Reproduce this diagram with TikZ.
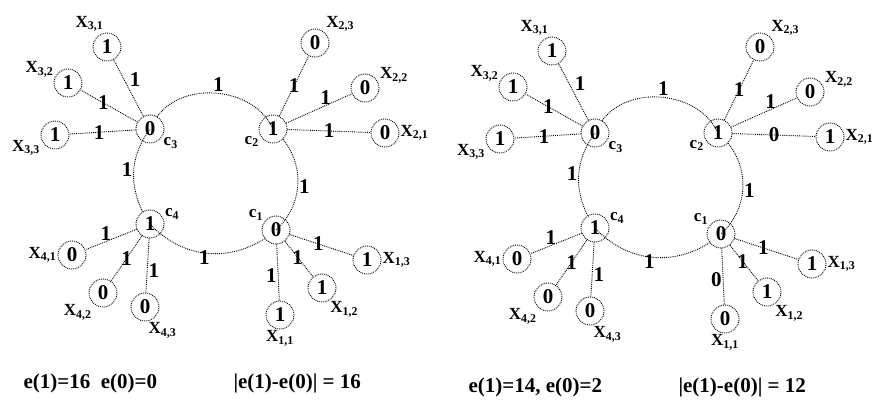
\documentclass[tikz,border=0pt]{standalone}
\usepackage{fontspec}
\setmainfont{Liberation Serif}
\usetikzlibrary{positioning}

\begin{document}
\begin{tikzpicture}[
  x=1pt, y=-1pt,
  font=\fontsize{21}{22}\selectfont\bfseries,
  link/.style={densely dotted, line width=0.9pt},
  vertex/.style={circle, draw, densely dotted, line width=0.9pt, minimum size=28pt, inner sep=0pt},
  leaf/.style={vertex, on grid},
  tag/.style={font=\fontsize{17}{18}\selectfont\bfseries, inner sep=1pt},
  wt/.style={inner sep=1pt},
  sum/.style={font=\fontsize{21}{22}\selectfont\bfseries, anchor=west},
]
\useasboundingbox (0,0) rectangle (886,400);
\foreach \dx/\dy/\pre/\ua/\wa/\ub/\wb/\sa/\sb in {0/0/L/1/1/0/1/{e(1)=16 \ e(0)=0}/{|e(1)-e(0)| = 16},
    445/4/R/0/0/1/0/{e(1)=14, e(0)=2}/{|e(1)-e(0)| = 12}} {
\begin{scope}[shift={(\dx,\dy)}, name prefix=\pre-]
\node[vertex, label={[tag]145:c\textsubscript{1}}] (c1) at (276,230) {0};
\node[vertex, label={[tag]205:c\textsubscript{2}}] (c2) at (273,129) {1};
\node[vertex, label={[tag]-30:c\textsubscript{3}}] (c3) at (150,129) {0};
\node[vertex, label={[tag]15:c\textsubscript{4}}] (c4) at (150,224) {1};

\node[leaf, below right=85pt and 4pt of c1, label={[tag]-90:X\textsubscript{1,1}}] (x11) {\ua};
\node[leaf, below right=58pt and 46pt of c1, label={[tag]-60:X\textsubscript{1,2}}] (x12) {1};
\node[leaf, below right=30pt and 91pt of c1, label={[tag]0:X\textsubscript{1,3}}] (x13) {1};
\node[leaf, below right=4pt and 112pt of c2, label={[tag]0:X\textsubscript{2,1}}] (x21) {\ub};
\node[leaf, above right=41pt and 92pt of c2, label={[tag]15:X\textsubscript{2,2}}] (x22) {0};
\node[leaf, above right=86pt and 42pt of c2, label={[tag]45:X\textsubscript{2,3}}] (x23) {0};
\node[leaf, above left=82pt and 43pt of c3, label={[tag]100:X\textsubscript{3,1}}] (x31) {1};
\node[leaf, above left=46pt and 82pt of c3, label={[tag]160:X\textsubscript{3,2}}] (x32) {1};
\node[leaf, below left=6pt and 95pt of c3, label={[tag]195:X\textsubscript{3,3}}] (x33) {1};
\node[leaf, below left=31pt and 78pt of c4, label={[tag]180:X\textsubscript{4,1}}] (x41) {0};
\node[leaf, below left=69pt and 47pt of c4, label={[tag]225:X\textsubscript{4,2}}] (x42) {0};
\node[leaf, below left=83pt and 5pt of c4, label={[tag]-80:X\textsubscript{4,3}}] (x43) {0};

\draw[link] (c3) -- node[wt, above right] {1} (x31);
\draw[link] (c3) -- node[wt, pos=0.6] {1} (x32);
\draw[link] (c3) -- node[wt, pos=0.55] {1} (x33);
\draw[link] (c2) -- node[wt] {1} (x23);
\draw[link] (c2) -- node[wt, above, pos=0.6] {1} (x22);
\draw[link] (c2) -- node[wt] {\wb} (x21);
\draw[link] (c4) -- node[wt, above, pos=0.6] {1} (x41);
\draw[link] (c4) -- node[wt] {1} (x42);
\draw[link] (c4) -- node[wt, right, pos=0.6] {1} (x43);
\draw[link] (c1) -- node[wt, left, pos=0.55] {\wa} (x11);
\draw[link] (c1) -- node[wt, pos=0.45] {1} (x12);
\draw[link] (c1) -- node[wt, pos=0.45] {1} (x13);
\draw[link] (c3) to[bend left=60] node[wt, above] {1} (c2);
\draw[link] (c2) to[bend left=43] node[wt, right] {1} (c1);
\draw[link] (c1) to[bend left=40] node[wt, below=-4pt] {1} (c4);
\draw[link] (c4) to[bend left=31] node[wt, left] {1} (c3);

\node[sum] (sum) at (20,383) {\sa};
\node[sum] (diff) at (230,383) {\sb};
\end{scope}
}
\end{tikzpicture}
\end{document}
